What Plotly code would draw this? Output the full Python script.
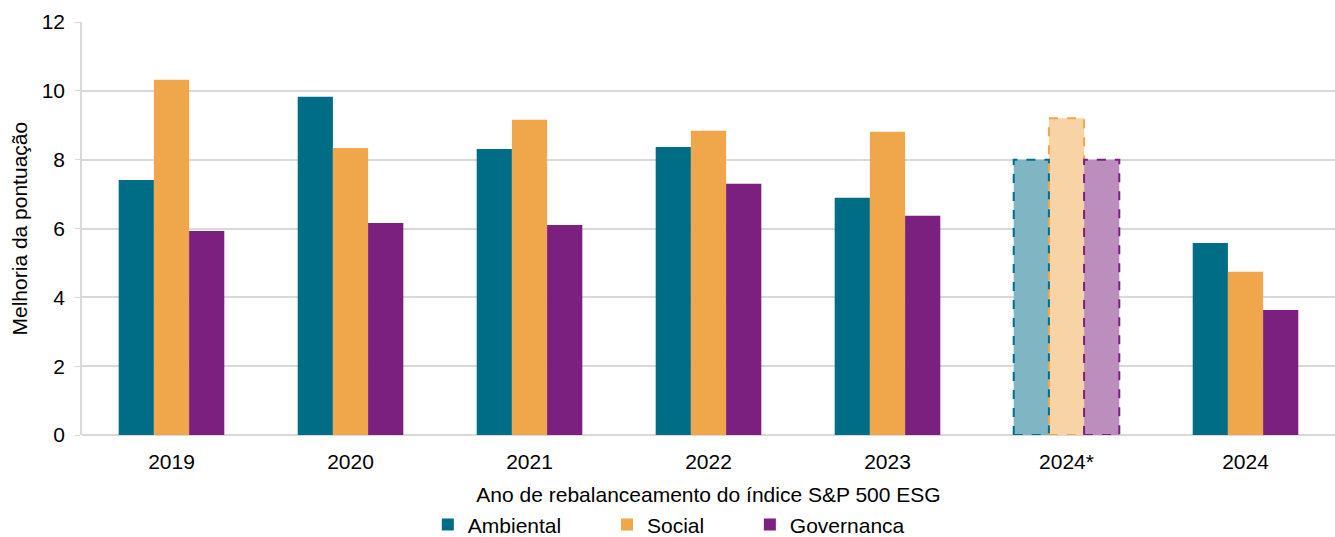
import plotly.graph_objects as go

categories = ["2019", "2020", "2021", "2022", "2023", "2024*", "2024"]
ambiental = [7.41, 9.83, 8.31, 8.37, 6.89, 8.0, 5.58]
social = [10.32, 8.34, 9.16, 8.84, 8.81, 9.2, 4.74]
governanca = [5.93, 6.16, 6.10, 7.30, 6.37, 8.0, 3.63]

series = [
    ("Ambiental", ambiental, "#006D87", "#80B5C3"),
    ("Social", social, "#F0A64A", "#F8D3A5"),
    ("Governanca", governanca, "#7B207E", "#BC8EBE"),
]
legend_x = [0.276, 0.419, 0.533]
proj_cat = "2024*"
bargap = 0.41

fig = go.Figure()
n = len(series)
bw = (1 - bargap) / n
pi = categories.index(proj_cat)
font = "Liberation Sans, Arial, sans-serif"
fs = 21
legend_ids = ["legend", "legend2", "legend3"]
layout_legends = {}
for k, (name, vals, col, light) in enumerate(series):
    colors = [light if c == proj_cat else col for c in categories]
    fig.add_trace(go.Bar(
        x=categories, y=vals, name=name, legend=legend_ids[k],
        marker=dict(color=colors, line=dict(width=0)),
    ))
    x0 = pi - (1 - bargap) / 2 + k * bw
    fig.add_shape(type="rect", xref="x", yref="y",
                  x0=x0, x1=x0 + bw, y0=0, y1=vals[pi],
                  line=dict(color=col, width=2, dash="dash"),
                  fillcolor="rgba(0,0,0,0)", layer="above")
    layout_legends[legend_ids[k]] = dict(
        orientation="h", x=legend_x[k], xanchor="left", y=-0.168, yanchor="top",
        font=dict(size=fs, family=font, color="#000000"), itemwidth=30,
        bgcolor="rgba(0,0,0,0)")

fig.add_annotation(text="Melhoria da pontuação", textangle=-90,
                   xref="paper", yref="paper", x=-0.0495, y=0.5,
                   xanchor="center", yanchor="middle", showarrow=False,
                   font=dict(size=fs, family=font, color="#000000"))

fig.update_layout(
    width=1335, height=537,
    margin=dict(l=82, r=0, t=22, b=102, autoexpand=False),
    paper_bgcolor="white", plot_bgcolor="white",
    barmode="group", bargap=bargap, bargroupgap=0,
    font=dict(family=font, size=fs, color="#000000"),
    showlegend=True,
    xaxis=dict(type="category", categoryorder="array", categoryarray=categories,
               automargin=False,
               title=dict(text="Ano de rebalanceamento do índice S&P 500 ESG",
                          font=dict(size=fs)),
               showline=False, showgrid=False, ticks="", tickfont=dict(size=fs),
               ticklabelstandoff=12),
    yaxis=dict(range=[0, 12], dtick=2, showgrid=True, gridcolor="#D9D9D9", gridwidth=1.5,
               automargin=False,
               showline=True, linecolor="#D9D9D9", linewidth=1.5,
               ticks="outside", ticklen=5, tickcolor="#D9D9D9",
               zeroline=True, zerolinecolor="#D9D9D9", zerolinewidth=1.5,
               tickfont=dict(size=fs), ticklabelstandoff=6),
    **layout_legends,
)
fig.write_html("out.html", config={"displayModeBar": False},
               post_script="document.body.style.margin='0px';")
